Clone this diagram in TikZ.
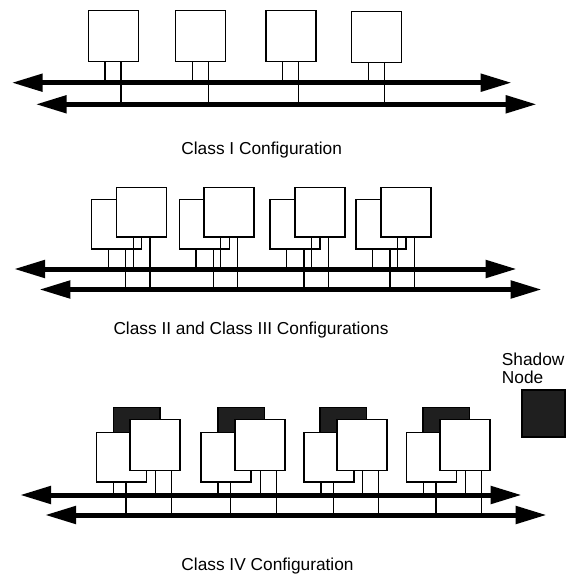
\documentclass[tikz,border=0pt]{standalone}
\usepackage{fontspec}
\setmainfont{Liberation Sans}
\usetikzlibrary{arrows.meta}

\tikzset{
  unit/.style={draw=black, line width=1.5pt, fill=white, inner sep=0pt, outer sep=0pt,
    minimum width=50pt, minimum height=50pt, anchor=north west},
  shadowunit/.style={unit, fill=black!88, minimum width=46.5pt, minimum height=48pt},
  stub/.style={line width=1.4pt},
  bus/.style={line width=5pt,
    {Triangle[length=31pt,width=17pt]}-{Triangle[length=31pt,width=17pt]}},
  caption/.style={font=\fontsize{17.3pt}{18.3pt}\selectfont, inner sep=0pt, anchor=base},
}

\begin{document}
\begin{tikzpicture}[x=1pt, y=-1pt]
\useasboundingbox (0,0) rectangle (567,578);

% ---------- Class I: one node per station ----------
\coordinate (U1L) at (11.7,82.7);  \coordinate (U1R) at (511.7,82.7);
\coordinate (L1L) at (35.7,104.3); \coordinate (L1R) at (536.7,104.3);
\foreach \i/\x/\y in {1/88.3/10.7, 2/175.7/10.7, 3/266/10.7, 4/351.7/11.5} {
  \node[unit, minimum height=51pt] (p\i) at (\x,\y) {};
  \draw[stub] ([xshift=16.7pt]p\i.south west) -- ([xshift=16.7pt]p\i.south west |- U1L);
  \draw[stub] ([xshift=32.7pt]p\i.south west) -- ([xshift=32.7pt]p\i.south west |- L1L);
}
\draw[bus] (L1L) -- (L1R);
\draw[bus] (U1L) -- (U1R);
\node[caption] (cap1) at (261.7,154.3) {Class I Configuration};

% ---------- Class II / III: paired nodes ----------
\coordinate (U2L) at (14,269);    \coordinate (U2R) at (516.7,269);
\coordinate (L2L) at (39.3,289.5); \coordinate (L2R) at (541.7,289.5);
\foreach \i/\bx/\fx in {1/91.7/116.7, 2/179.3/204, 3/270/295, 4/356/381} {
  \node[unit, minimum height=49.5pt] (q\i) at (\bx,199.5) {};
  \node[unit, minimum height=49.5pt] (r\i) at (\fx,187.5) {};
  \draw[stub] ([xshift=16.6pt]q\i.south west) -- ([xshift=16.6pt]q\i.south west |- U2L);
  \draw[stub] ([xshift=34pt]q\i.south west) -- ([xshift=34pt]q\i.south west |- L2L);
  \draw[stub] ([xshift=16.6pt]r\i.south west) -- ([xshift=16.6pt]r\i.south west |- U2L);
  \draw[stub] ([xshift=33.3pt]r\i.south west) -- ([xshift=33.3pt]r\i.south west |- L2L);
}
\draw[bus] (L2L) -- (L2R);
\draw[bus] (U2L) -- (U2R);
\node[caption] (cap2) at (251,334.3) {Class II and Class III Configurations};

% ---------- Class IV: paired nodes with a shadow node ----------
\coordinate (U3L) at (20,495);   \coordinate (U3R) at (521.7,495);
\coordinate (L3L) at (45,515);   \coordinate (L3R) at (546.7,515);
\foreach \i/\bx/\fx/\sx in {1/96.7/130/113.3, 2/201/235/218, 3/304/337/320, 4/406.7/440/423} {
  \node[shadowunit] (s\i) at (\sx,407.5) {};
  \node[unit, minimum height=49.5pt] (v\i) at (\bx,432.5) {};
  \node[unit, minimum height=51pt] (w\i) at (\fx,419.5) {};
  \draw[stub] ([xshift=17pt]v\i.south west) -- ([xshift=17pt]v\i.south west |- U3L);
  \draw[stub] ([xshift=29.3pt]v\i.south west) -- ([xshift=29.3pt]v\i.south west |- L3L);
  \draw[stub] ([xshift=25.3pt]w\i.south west) -- ([xshift=25.3pt]w\i.south west |- U3L);
  \draw[stub] ([xshift=41.3pt]w\i.south west) -- ([xshift=41.3pt]w\i.south west |- L3L);
}
\draw[bus] (L3L) -- (L3R);
\draw[bus] (U3L) -- (U3R);
\node[caption] (cap3) at (267.5,570) {Class IV Configuration};

% ---------- legend ----------
\node[font=\fontsize{17.3pt}{18.3pt}\selectfont, align=left, inner sep=0pt, anchor=north west]
  (legtext) at (501.7,352.5) {Shadow\\Node};
\node[shadowunit, minimum width=43pt, minimum height=47pt] (legbox) at (522,390) {};
\end{tikzpicture}
\end{document}
